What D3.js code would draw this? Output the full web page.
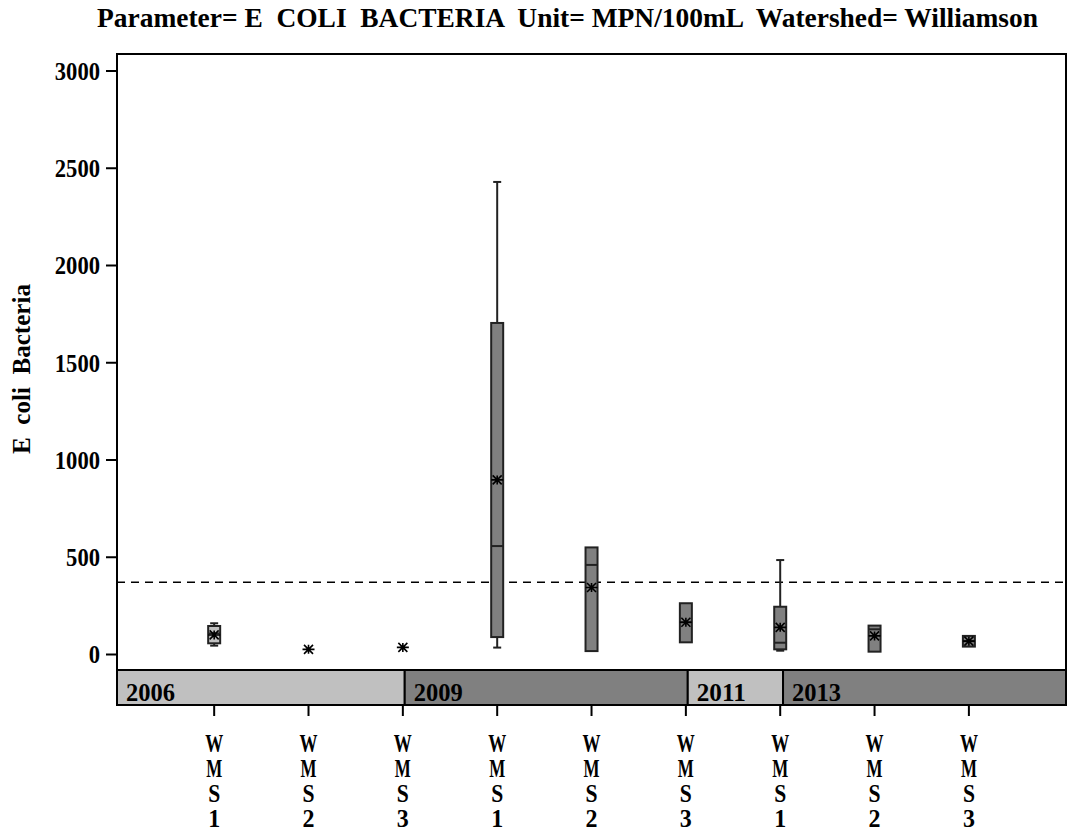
<!DOCTYPE html>
<html><head><meta charset="utf-8">
<script src="https://cdn.jsdelivr.net/npm/d3@7"></script>
<style>body{margin:0;background:#fff}text{font-family:"Liberation Serif","DejaVu Serif",serif;font-weight:bold;white-space:pre}</style>
</head><body><svg id="c" width="1068" height="832"></svg>
<script>
// ---- data ----
const categories = ["WMS1","WMS2","WMS3","WMS1","WMS2","WMS3","WMS1","WMS2","WMS3"];
const whiskerLow  = [43, null, null, 33,   15, 60,  17,  12,  38];
const q1          = [55, null, null, 87,   15, 60,  24,  12,  38];
const median      = [106,null, null, 555,  458,163, 58,  127, 66];
const q3          = [144,null, null, 1702, 548,261, 243, 146, 93];
const whiskerHigh = [158,null, null, 2427, 548,261, 483, 146, 93];
const means       = [98, 24,   34,   895,  342,163, 137, 93,  66];
const boxShade    = ["light","dark","dark","dark","dark","dark","dark","dark","dark"];
const years       = ["2006","2009","2011","2013"];
const yearStart   = [-1.03, 2.02, 5.02, 6.03];
const yearEnd     = [2.02, 5.02, 6.03, 9.04];
const yearShade   = ["light","dark","light","dark"];
const yTicks      = [0,500,1000,1500,2000,2500,3000];
const refLine     = 369;
const title = "Parameter= E  COLI  BACTERIA  Unit= MPN/100mL  Watershed= Williamson";
const yTitle = "E  coli  Bacteria";

// ---- layout ----
const shades = {light:"#c0c0c0", dark:"#808080"};
const L = 117, R = 1067, T = 54, B = 705, bandH = 35;
const svg = d3.select("#c");
svg.append("rect").attr("width",1068).attr("height",832).attr("fill","#fff");
const x = d3.scaleLinear().domain([-1.03, 9.04]).range([L, R]);
const y = d3.scaleLinear().domain([0, 3000]).range([654, 70.5]);

// title
svg.append("text").attr("x",97).attr("y",27).attr("font-size",27)
  .attr("textLength",941).attr("lengthAdjust","spacingAndGlyphs").text(title);

// y title
svg.append("text").attr("transform","translate(30,369) rotate(-90)")
  .attr("text-anchor","middle").attr("font-size",25)
  .attr("textLength",170).attr("lengthAdjust","spacingAndGlyphs").text(yTitle);

// frame
svg.append("rect").attr("x",L).attr("y",T).attr("width",R-L-1).attr("height",B-T)
  .attr("fill","none").attr("stroke","#000").attr("stroke-width",2);

// y axis
const yAxis = d3.axisLeft(y).tickValues(yTicks).tickSize(11).tickPadding(6).tickFormat(d3.format("d"));
const ga = svg.append("g").attr("transform",`translate(${L},0)`).call(yAxis);
ga.select(".domain").remove();
ga.selectAll(".tick line").attr("stroke","#000").attr("stroke-width",2);
ga.selectAll(".tick text").attr("font-size",26).attr("fill","#000")
  .attr("font-family",'"Liberation Serif",serif').attr("font-weight","bold")
  .attr("dy","0.34em")
  .each(function(d){ d3.select(this).attr("textLength", String(d).length*11.3).attr("lengthAdjust","spacingAndGlyphs"); });

// reference line
svg.append("line").attr("x1",L).attr("x2",R-1).attr("y1",y(refLine)).attr("y2",y(refLine))
  .attr("stroke","#000").attr("stroke-width",1.6).attr("stroke-dasharray","8,6");

// year band
const band = svg.append("g");
years.forEach((yr,i)=>{
  band.append("rect").attr("x",x(yearStart[i])).attr("y",B-bandH)
    .attr("width",x(yearEnd[i])-x(yearStart[i]) - (i===years.length-1?1:0)).attr("height",bandH)
    .attr("fill",shades[yearShade[i]]).attr("stroke","#000").attr("stroke-width",2);
  band.append("text").attr("x",x(yearStart[i])+9).attr("y",B-4).attr("font-size",26)
    .attr("textLength",49).attr("lengthAdjust","spacingAndGlyphs").text(yr);
});

// x ticks & stacked labels
categories.forEach((c,i)=>{
  svg.append("line").attr("x1",x(i)).attr("x2",x(i)).attr("y1",B).attr("y2",B+11)
    .attr("stroke","#000").attr("stroke-width",2);
  c.split("").forEach((ch,k)=>{
    svg.append("text").attr("x",x(i)).attr("y",752+k*25).attr("text-anchor","middle")
      .attr("font-size",25).attr("textLength",ch==="W"?18:ch==="M"?16:12)
      .attr("lengthAdjust","spacingAndGlyphs").text(ch);
  });
});

// boxes
const bw = 12, cap = 8;
const star = (cx,cy)=>{
  const h=6, v=4.5;
  return `M${cx-h},${cy}L${cx+h},${cy}M${cx},${cy-v}L${cx},${cy+v}M${cx-4.5},${cy-v}L${cx+4.5},${cy+v}M${cx-4.5},${cy+v}L${cx+4.5},${cy-v}`;
};
const gb = svg.append("g");
categories.forEach((c,i)=>{
  const cx = x(i);
  if (q1[i] !== null) {
    if (whiskerHigh[i] > q3[i]) {
      gb.append("line").attr("x1",cx).attr("x2",cx).attr("y1",y(whiskerHigh[i])).attr("y2",y(q3[i]))
        .attr("stroke","#222").attr("stroke-width",2);
      gb.append("line").attr("x1",cx-cap/2).attr("x2",cx+cap/2).attr("y1",y(whiskerHigh[i])).attr("y2",y(whiskerHigh[i]))
        .attr("stroke","#222").attr("stroke-width",2);
    }
    if (whiskerLow[i] < q1[i]) {
      gb.append("line").attr("x1",cx).attr("x2",cx).attr("y1",y(q1[i])).attr("y2",y(whiskerLow[i]))
        .attr("stroke","#222").attr("stroke-width",2);
      gb.append("line").attr("x1",cx-cap/2).attr("x2",cx+cap/2).attr("y1",y(whiskerLow[i])).attr("y2",y(whiskerLow[i]))
        .attr("stroke","#222").attr("stroke-width",2);
    }
    gb.append("rect").attr("x",cx-bw/2).attr("y",y(q3[i])).attr("width",bw)
      .attr("height",Math.max(1,y(q1[i])-y(q3[i])))
      .attr("fill",shades[boxShade[i]]).attr("stroke","#222").attr("stroke-width",2);
    gb.append("line").attr("x1",cx-bw/2).attr("x2",cx+bw/2).attr("y1",y(median[i])).attr("y2",y(median[i]))
      .attr("stroke","#222").attr("stroke-width",2);
  }
  gb.append("path").attr("d",star(cx,y(means[i]))).attr("stroke","#000").attr("stroke-width",1.6).attr("fill","none");
});
</script></body></html>
